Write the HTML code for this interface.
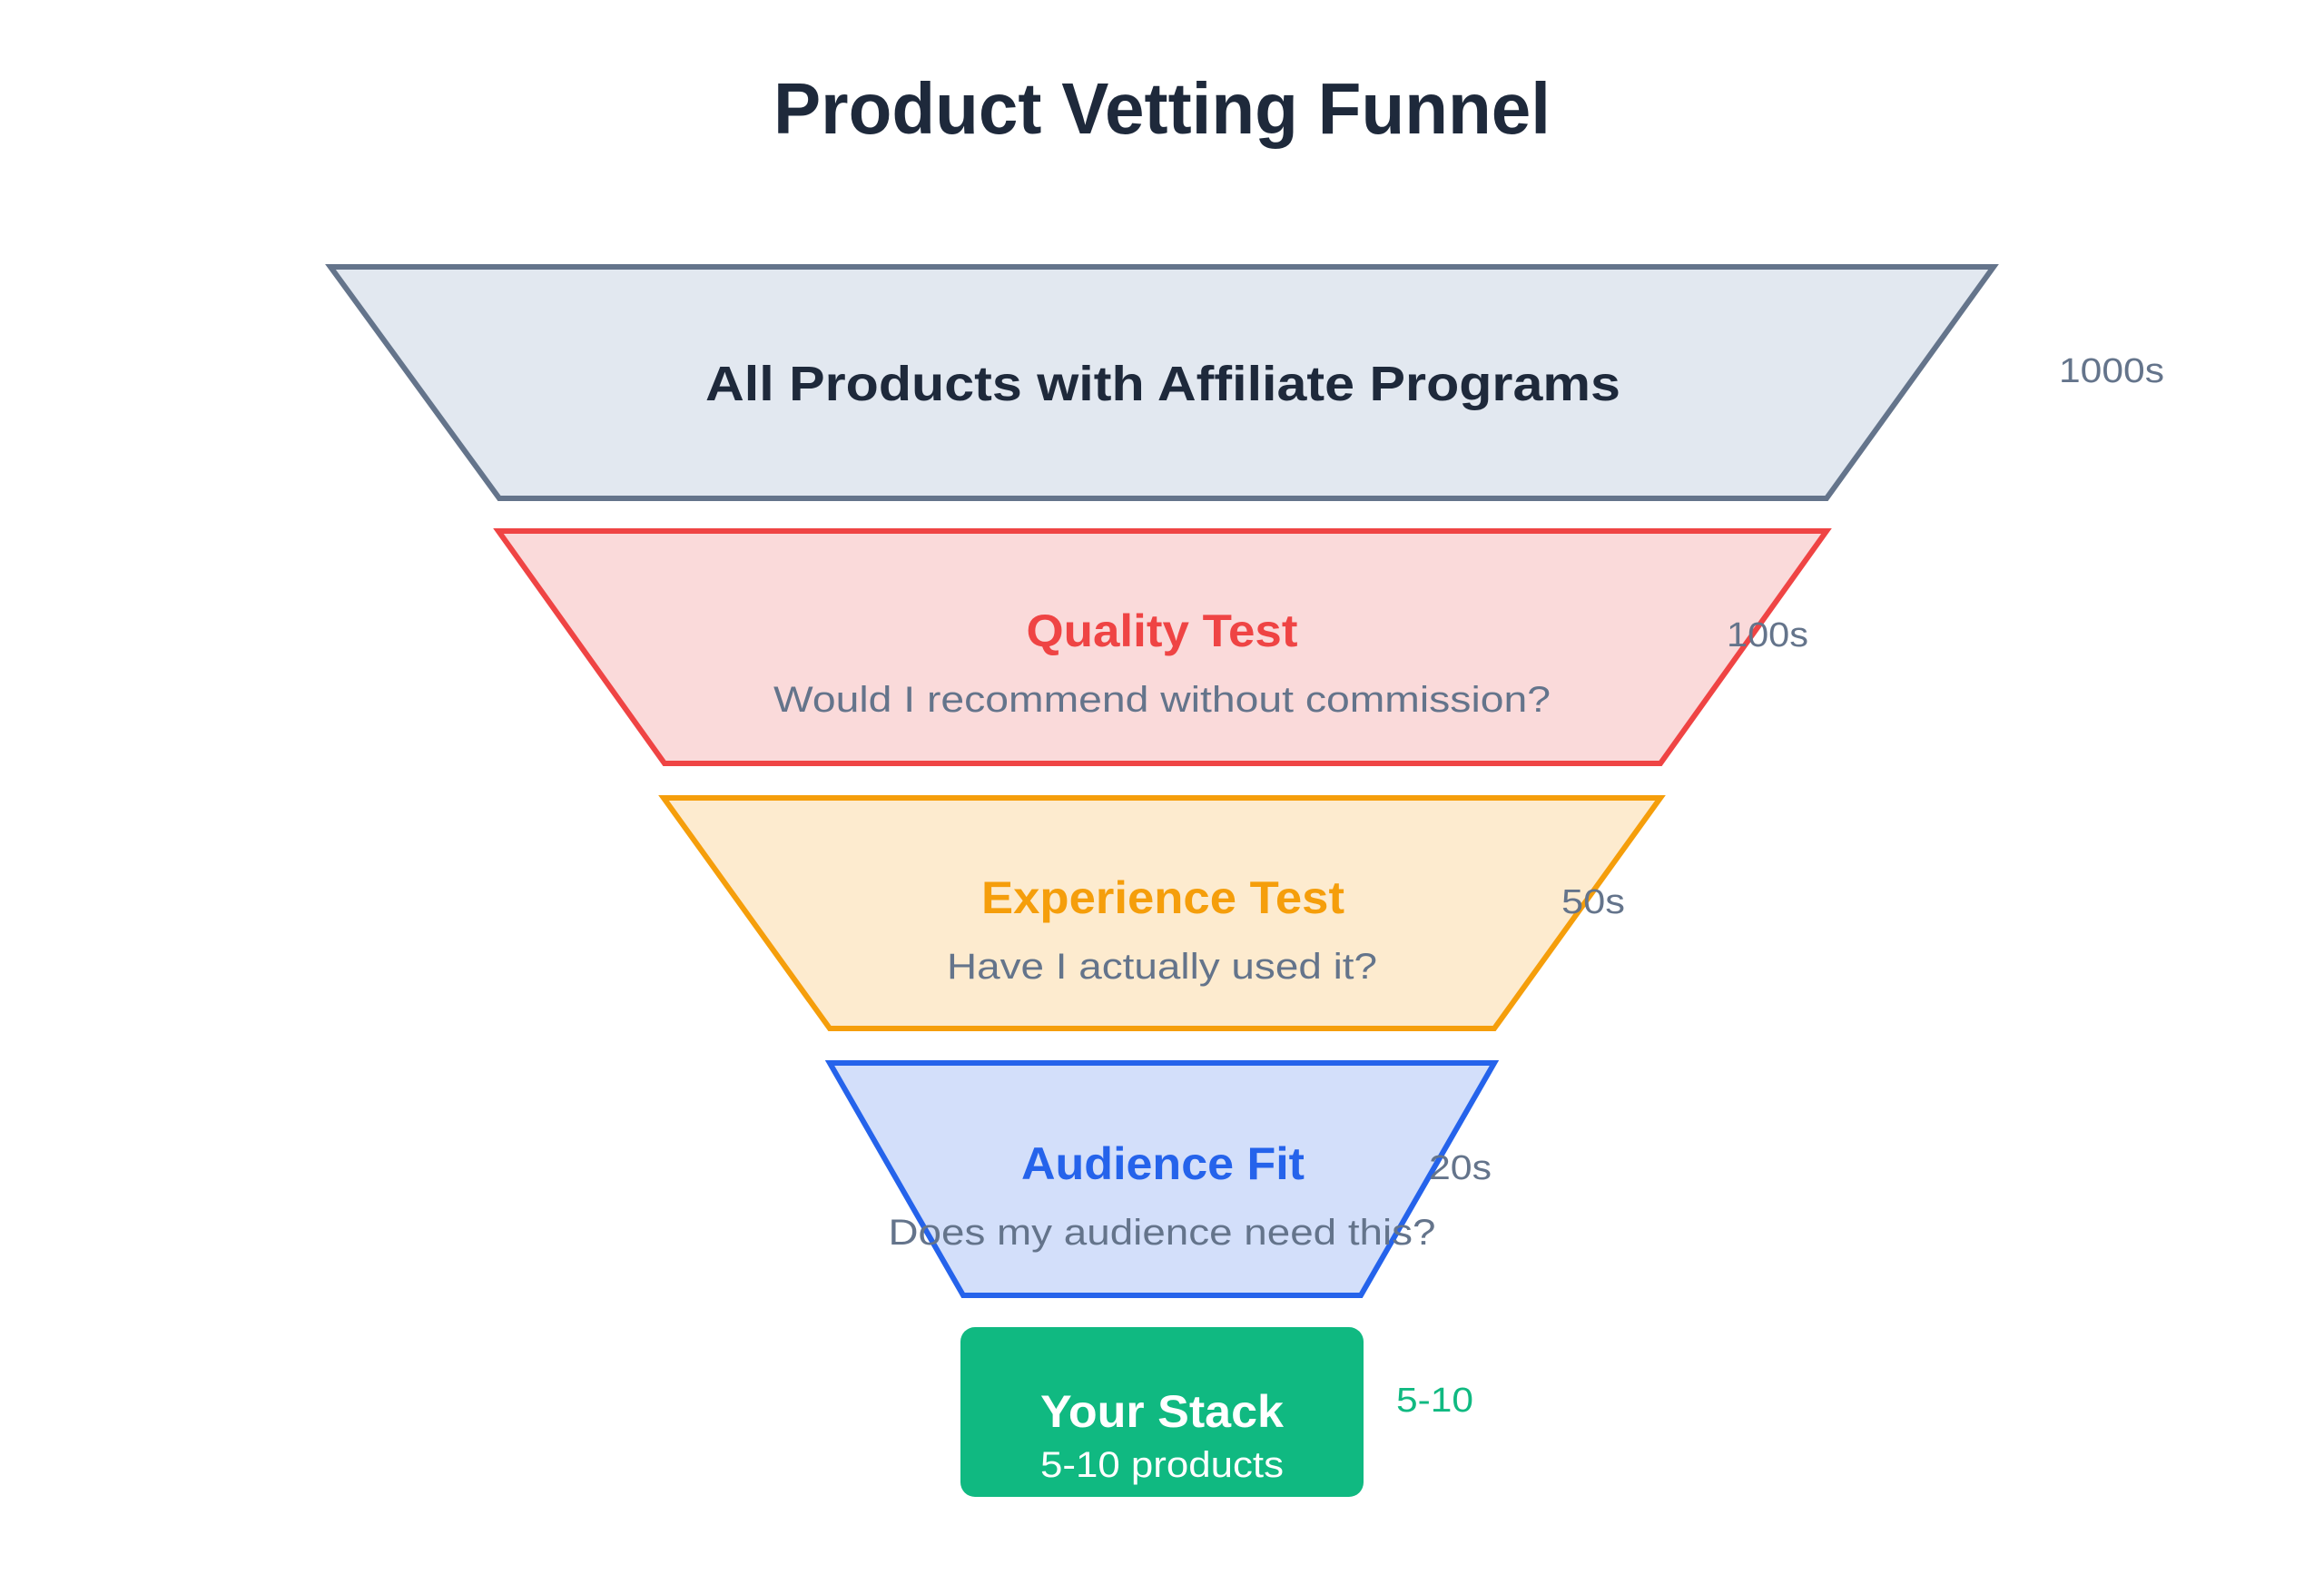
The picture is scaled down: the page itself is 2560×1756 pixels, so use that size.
<!DOCTYPE html>
<html><head><meta charset="utf-8"><style>html,body{margin:0;padding:0;background:#fff}svg{display:block}text{font-family:"Liberation Sans",sans-serif}</style></head>
<body>
<svg width="2560" height="1756" viewBox="0 0 2560 1756" xmlns="http://www.w3.org/2000/svg">
<rect width="2560" height="1756" fill="#fff"/>
<text x="1280" y="147" text-anchor="middle" font-size="80" font-weight="bold" fill="#1e293b" textLength="856" lengthAdjust="spacingAndGlyphs">Product Vetting Funnel</text>

<polygon points="364,294 2196,294 2012,549 550,549" fill="#e2e8f0" stroke="#64748b" stroke-width="6" stroke-linejoin="miter"/>
<text x="1281" y="441" text-anchor="middle" font-size="54" font-weight="bold" fill="#1e293b" textLength="1008" lengthAdjust="spacingAndGlyphs">All Products with Affiliate Programs</text>
<text x="2268" y="421" font-size="38" fill="#64748b" textLength="116" lengthAdjust="spacingAndGlyphs">1000s</text>

<polygon points="549,585 2012,585 1829,841 732,841" fill="#fadada" stroke="#ef4444" stroke-width="6"/>
<text x="1280" y="712" text-anchor="middle" font-size="50" font-weight="bold" fill="#ef4444" textLength="299" lengthAdjust="spacingAndGlyphs">Quality Test</text>
<text x="1280" y="784" text-anchor="middle" font-size="40" fill="#64748b" textLength="856" lengthAdjust="spacingAndGlyphs">Would I recommend without commission?</text>
<text x="1902" y="712" font-size="38" fill="#64748b" textLength="90" lengthAdjust="spacingAndGlyphs">100s</text>

<polygon points="731,879 1829,879 1646,1133 914,1133" fill="#fdebcf" stroke="#f59e0b" stroke-width="6"/>
<text x="1281" y="1006" text-anchor="middle" font-size="50" font-weight="bold" fill="#f59e0b" textLength="400" lengthAdjust="spacingAndGlyphs">Experience Test</text>
<text x="1280" y="1078" text-anchor="middle" font-size="40" fill="#64748b" textLength="474" lengthAdjust="spacingAndGlyphs">Have I actually used it?</text>
<text x="1720" y="1006" font-size="38" fill="#64748b" textLength="70" lengthAdjust="spacingAndGlyphs">50s</text>

<polygon points="914,1171 1646,1171 1499,1427 1061,1427" fill="#d3dffa" stroke="#2563eb" stroke-width="6"/>
<text x="1281" y="1299" text-anchor="middle" font-size="50" font-weight="bold" fill="#2563eb" textLength="312" lengthAdjust="spacingAndGlyphs">Audience Fit</text>
<text x="1280" y="1371" text-anchor="middle" font-size="40" fill="#64748b" textLength="603" lengthAdjust="spacingAndGlyphs">Does my audience need this?</text>
<text x="1574" y="1299" font-size="38" fill="#64748b" textLength="69" lengthAdjust="spacingAndGlyphs">20s</text>

<rect x="1058" y="1462" width="444" height="187" rx="16" fill="#10b981"/>
<text x="1280" y="1572" text-anchor="middle" font-size="50" font-weight="bold" fill="#fff" textLength="268" lengthAdjust="spacingAndGlyphs">Your Stack</text>
<text x="1280" y="1627" text-anchor="middle" font-size="40" fill="#fff" textLength="268" lengthAdjust="spacingAndGlyphs">5-10 products</text>
<text x="1538" y="1555" font-size="38" fill="#10b981" textLength="85" lengthAdjust="spacingAndGlyphs">5-10</text>
</svg>
</body></html>
